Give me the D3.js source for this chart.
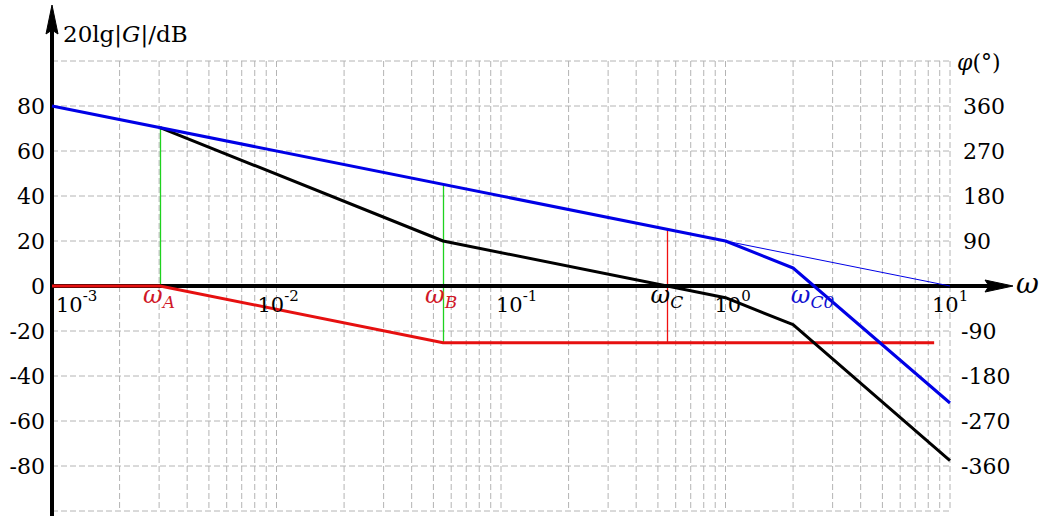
<!DOCTYPE html>
<html>
<head>
<meta charset="utf-8">
<script src="https://cdn.jsdelivr.net/npm/d3@7"></script>
<style>
  body { margin: 0; background: #fff; }
  svg text { font-family: "DejaVu Serif", serif; }
</style>
</head>
<body>
<div id="bode"></div>
<script>
// bode asymptotes

const width = 1044;
const height = 516;

// break frequencies
const wA = 0.00303;
const wB = 0.0552;
const wC = 0.552;
const wC0 = 2.4;

// magnitude asymptotes [omega, dB]
const blueMag = [[0.001, 80], [1, 20], [2, 8], [10, -52]];
const blueThin = [[1, 20], [10, 0]];
const blackMag = [[wA, 70.4], [wB, 20], [1, -5.2], [2, -17.2], [10, -77.6]];
const redMag = [[0.001, 0], [wA, 0], [wB, -25.2], [8.5, -25.2]];

// vertical guide lines [omega, top dB, bottom dB]
const guides = [[wA, 70.4, 0], [wB, 45.2, -25.2], [wC, 25.2, -25.2]];
const guideColors = ["#1ed21e", "#1ed21e", "#f01010"];

// ticks
const dbTicks = [80, 60, 40, 20, 0, -20, -40, -60, -80];
const phaseTicks = [360, 270, 180, 90, -90, -180, -270, -360];
const decadeExp = [-3, -2, -1, 0, 1];
const decadeLabelShift = [4, -19, -5, -11, -18];

const omegaLabels = [
  {w: wA, sub: "A", color: "#d01828", dx: -17},
  {w: wB, sub: "B", color: "#d01828", dx: -18},
  {w: wC, sub: "C", color: "#000", dx: -17},
  {w: wC0, sub: "C0", color: "#1010d0", dx: -20}
];

const svg = d3.select("#bode").append("svg")
  .attr("width", width)
  .attr("height", height);

const x = d3.scaleLog().domain([0.001, 10]).range([52, 950]);
const y = d3.scaleLinear().domain([-100, 100]).range([511, 61]);
// phase axis sits on the same grid: 90 deg per 20 dB
const yPhase = d3.scaleLinear().domain([-450, 450]).range([511, 61]);

// grid
const grid = svg.append("g").attr("class", "grid")
  .attr("stroke", "#b4b4b4")
  .attr("stroke-width", 1)
  .attr("stroke-dasharray", "6,3");

grid.selectAll("line.h")
  .data(d3.range(-100, 101, 20))
  .join("line")
  .attr("class", "h")
  .attr("x1", 52).attr("x2", 950)
  .attr("y1", d => y(d)).attr("y2", d => y(d));

grid.selectAll("line.v")
  .data(x.ticks(40).filter(d => d > 0.001))
  .join("line")
  .attr("class", "v")
  .attr("x1", d => x(d)).attr("x2", d => x(d))
  .attr("y1", y(100)).attr("y2", y(-100));

// guide lines (snapped to pixel centres so the thin lines stay crisp)
const gx = d => Math.round(x(d[0]) - 0.5) + 0.5;
svg.append("g").selectAll("line")
  .data(guides)
  .join("line")
  .attr("x1", gx).attr("x2", gx)
  .attr("y1", d => y(d[1])).attr("y2", d => y(d[2]))
  .attr("stroke", (d, i) => guideColors[i])
  .attr("stroke-width", 1.3);

// axes
svg.append("line")
  .attr("x1", 52).attr("x2", 990)
  .attr("y1", y(0)).attr("y2", y(0))
  .attr("stroke", "#000").attr("stroke-width", 4);
svg.append("path")
  .attr("d", `M1013,${y(0)} L985,${y(0) - 6} L989,${y(0)} L985,${y(0) + 6} Z`)
  .attr("fill", "#000").attr("stroke", "#000").attr("stroke-width", 1);

svg.append("line")
  .attr("x1", 52).attr("x2", 52)
  .attr("y1", height).attr("y2", 28)
  .attr("stroke", "#000").attr("stroke-width", 4);
svg.append("path")
  .attr("d", "M52,5 L46,34 L52,30 L58,34 Z")
  .attr("fill", "#000").attr("stroke", "#000").attr("stroke-width", 1);

// curves
const line = d3.line().x(d => x(d[0])).y(d => y(d[1]));

svg.append("path").datum(blueThin)
  .attr("d", line).attr("fill", "none")
  .attr("stroke", "#0000e6").attr("stroke-width", 1);

svg.append("path").datum(redMag)
  .attr("d", line).attr("fill", "none")
  .attr("stroke", "#e61010").attr("stroke-width", 3);

svg.append("path").datum(blackMag)
  .attr("d", line).attr("fill", "none")
  .attr("stroke", "#000").attr("stroke-width", 3)
  .attr("stroke-linejoin", "round");

svg.append("path").datum(blueMag)
  .attr("d", line).attr("fill", "none")
  .attr("stroke", "#0000e6").attr("stroke-width", 3)
  .attr("stroke-linejoin", "round");

// left tick labels
svg.append("g").selectAll("text")
  .data(dbTicks)
  .join("text")
  .attr("x", 45)
  .attr("y", d => y(d))
  .attr("dy", "0.36em")
  .attr("text-anchor", "end")
  .attr("font-size", 22)
  .text(d => d);

// right tick labels
svg.append("g").selectAll("text")
  .data(phaseTicks)
  .join("text")
  .attr("x", d => d < 0 ? 961 : 963)
  .attr("y", d => yPhase(d))
  .attr("dy", "0.36em")
  .attr("font-size", 22)
  .text(d => d);

// decade labels
const dec = svg.append("g").selectAll("text")
  .data(decadeExp)
  .join("text")
  .attr("x", (d, i) => x(Math.pow(10, d)) + decadeLabelShift[i])
  .attr("y", 312)
  .attr("font-size", 21);
dec.append("tspan").text("10");
dec.append("tspan").attr("dy", -11).attr("font-size", 15).text(d => d);

// omega markers
const om = svg.append("g").selectAll("text")
  .data(omegaLabels)
  .join("text")
  .attr("x", d => x(d.w) + d.dx)
  .attr("y", 303)
  .attr("fill", d => d.color)
  .attr("font-family", "Liberation Serif")
  .attr("font-style", "italic")
  .attr("font-size", 24);
om.append("tspan").text("ω");
om.append("tspan").attr("dy", 5).attr("font-size", 17).text(d => d.sub);

// axis titles
const title = svg.append("text")
  .attr("x", 63).attr("y", 42)
  .attr("font-family", "Liberation Serif")
  .attr("font-size", 23);
title.append("tspan").text("20lg|");
title.append("tspan").attr("font-style", "italic").text("G");
title.append("tspan").text("|/dB");

const phi = svg.append("text")
  .attr("x", 957).attr("y", 70)
  .attr("font-size", 22);
phi.append("tspan").attr("font-style", "italic").text("φ");
phi.append("tspan").text("(°)");

svg.append("text")
  .attr("x", 1016).attr("y", 293)
  .attr("font-family", "Liberation Serif")
  .attr("font-style", "italic")
  .attr("font-size", 28)
  .text("ω");
</script>
</body>
</html>
